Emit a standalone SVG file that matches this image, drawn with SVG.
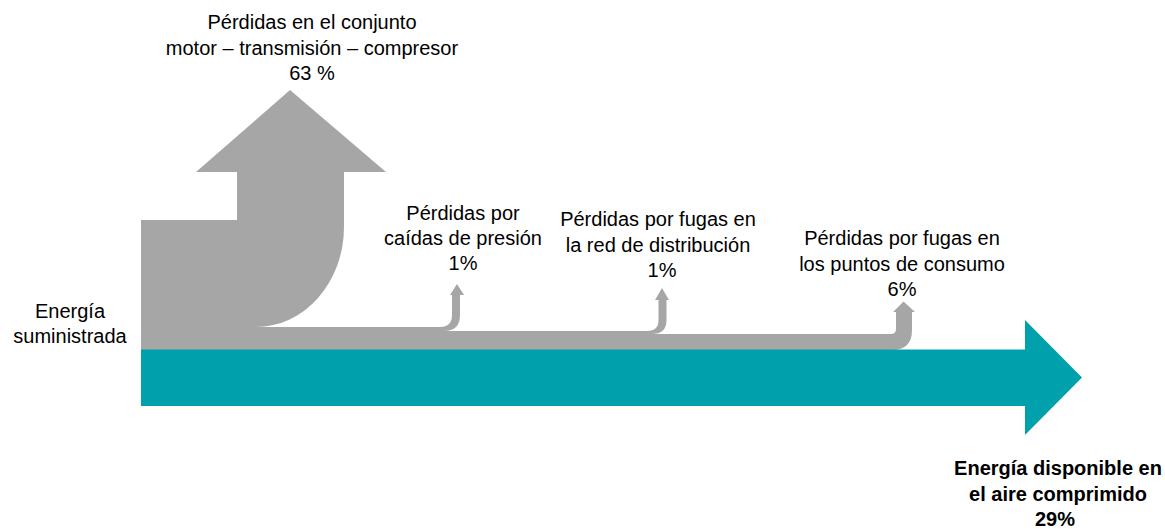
<svg xmlns="http://www.w3.org/2000/svg" width="1165" height="529" viewBox="0 0 1165 529">
<style>
.lbl{font-family:"Liberation Sans",Arial,sans-serif;font-size:20px;fill:#000;text-anchor:middle}
.b{font-weight:bold}
.grey{fill:#A6A6A6}
.teal{fill:#00A1AC}
</style>
<rect width="1165" height="529" fill="#fff"/>
<g id="connectors">
<path id="loss-flow" class="grey" d="M141,220 H237 V172 H196 L290,90 L386,172 H344 V227 A88,100 0 0 1 256,327 H440 Q452,327 452,315 V295 H450 L457,284 L464,295 H460 V315 Q460,331 444,331 H647 Q658.5,331 658.5,320 V300 H655 L662,288 L669,300 H666.5 V320 Q666.5,334 652,334 H891 Q896,334 896,329 V312 H893 L903.5,301.5 L915,312 H912 V330 Q912,350 892,350 H141 Z"/>
<path id="useful-flow" class="teal" d="M141,349.5 H1025 V320 L1082,377.5 L1025,435 V406 H141 Z"/>
</g>
<g id="node-input">
<text class="lbl" x="70" y="318">Energía</text>
<text class="lbl" x="70" y="343">suministrada</text>
</g>
<g id="node-loss-motor">
<text class="lbl" x="312" y="29">Pérdidas en el conjunto</text>
<text class="lbl" x="312" y="54.5">motor – transmisión – compresor</text>
<text class="lbl" x="312" y="80">63 %</text>
</g>
<g id="node-loss-pressure">
<text class="lbl" x="463" y="220">Pérdidas por</text>
<text class="lbl" x="463" y="245">caídas de presión</text>
<text class="lbl" x="463" y="270">1%</text>
</g>
<g id="node-loss-network">
<text class="lbl" x="658" y="226">Pérdidas por fugas en</text>
<text class="lbl" x="658" y="251.5">la red de distribución</text>
<text class="lbl" x="662" y="277">1%</text>
</g>
<g id="node-loss-points">
<text class="lbl" x="902" y="245">Pérdidas por fugas en</text>
<text class="lbl" x="902" y="270.5">los puntos de consumo</text>
<text class="lbl" x="902" y="296">6%</text>
</g>
<g id="node-output">
<text class="lbl b" x="1058" y="475">Energía disponible en</text>
<text class="lbl b" x="1058" y="501">el aire comprimido</text>
<text class="lbl b" x="1055" y="526">29%</text>
</g>
</svg>
